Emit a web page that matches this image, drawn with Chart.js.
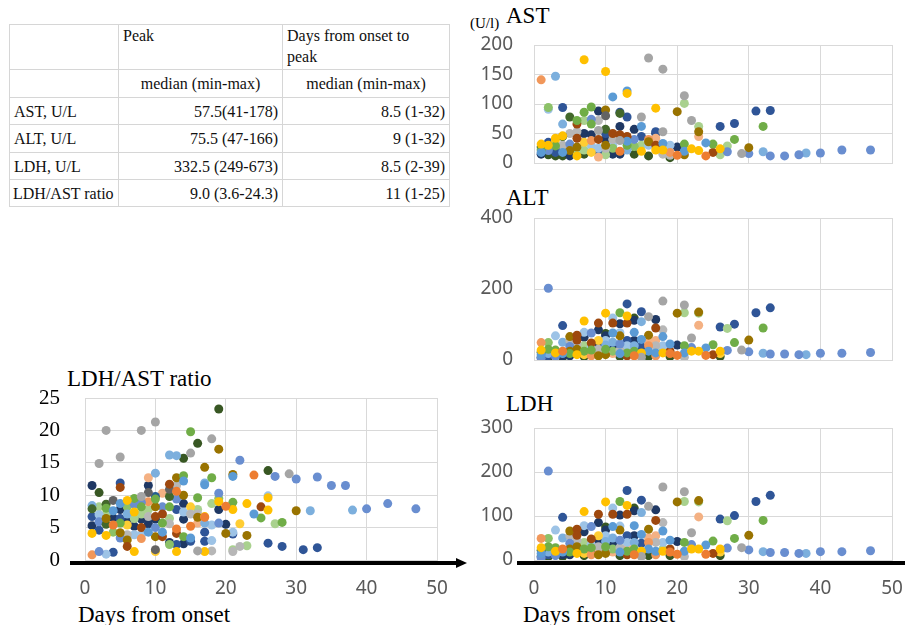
<!DOCTYPE html>
<html>
<head>
<meta charset="utf-8">
<script src="https://cdn.jsdelivr.net/npm/chart.js@4.4.0/dist/chart.umd.min.js"></script>
<style>
body { margin:0; width:905px; height:625px; background:#fff; position:relative; overflow:hidden; font-family:"Liberation Serif", serif; }
.box { position:absolute; }
.lbl { position:absolute; white-space:nowrap; line-height:1; color:#000; }
table { position:absolute; left:9px; top:24px; width:440px; border-collapse:collapse; table-layout:fixed; font-size:16px; color:#111; }
td { border:1.5px solid #d6d6d6; padding:0 4px; line-height:21px; white-space:nowrap; }
</style>
</head>
<body>

<table>
  <colgroup><col style="width:109px"><col style="width:164px"><col style="width:167px"></colgroup>
  <tr style="height:45px"><td></td><td style="vertical-align:top">Peak</td><td style="vertical-align:top">Days from onset to<br>peak</td></tr>
  <tr style="height:28px"><td></td><td style="text-align:center">median (min-max)</td><td style="text-align:center">median (min-max)</td></tr>
  <tr style="height:27px"><td>AST, U/L</td><td style="text-align:right">57.5(41-178)</td><td style="text-align:right">8.5 (1-32)</td></tr>
  <tr style="height:28px"><td>ALT, U/L</td><td style="text-align:right">75.5 (47-166)</td><td style="text-align:right">9 (1-32)</td></tr>
  <tr style="height:27px"><td>LDH, U/L</td><td style="text-align:right">332.5 (249-673)</td><td style="text-align:right">8.5 (2-39)</td></tr>
  <tr style="height:27px"><td style="padding-left:3px">LDH/AST ratio</td><td style="text-align:right">9.0 (3.6-24.3)</td><td style="text-align:right">11 (1-25)</td></tr>
</table>

<div class="lbl" style="left:470px;top:16px;font-size:15px">(U/l)</div>
<div class="lbl" style="left:506px;top:4px;font-size:23px">AST</div>
<div class="lbl" style="left:506px;top:186px;font-size:23px">ALT</div>
<div class="lbl" style="left:506px;top:392px;font-size:23px">LDH</div>
<div class="lbl" style="left:67px;top:367px;font-size:23px">LDH/AST ratio</div>
<div class="lbl" style="left:78px;top:603px;font-size:23px">Days from onset</div>
<div class="lbl" style="left:523px;top:603px;font-size:23px">Days from onset</div>

<div class="box" style="left:470px;top:0px"><canvas id="astChart" width="435" height="180"></canvas></div>
<div class="box" style="left:470px;top:180px"><canvas id="altChart" width="435" height="195"></canvas></div>
<div class="box" style="left:470px;top:385px"><canvas id="ldhChart" width="435" height="240"></canvas></div>
<div class="box" style="left:0px;top:385px"><canvas id="ratioChart" width="470" height="240"></canvas></div>

<script>
// one colour per patient, like the Excel series
const palette = ['#4472C4','#ED7D31','#A5A5A5','#FFC000','#5B9BD5','#70AD47','#264478','#9E480E',
  '#636363','#997300','#255E91','#43682B','#698ED0','#F1975A','#B7B7B7','#FFCD33',
  '#7CAFDD','#8CC168','#9DC3E6','#F4B183','#A9D18E','#2F5597','#1F3864','#385723'];

const dayTicks = [0, 10, 20, 30, 40, 50];

// [day from onset, value, patient]
const astPoints = [
  [1,141,13],[1,27,11],[1,32,3],[1,18,4],[1,15,22],[1,22,5],
  [2,94,17],[2,91,18],[2,35,21],[2,21,12],[2,27,16],[2,14,23],[2,30,3],
  [3,147,16],[3,42,3],[3,29,5],[3,12,23],[3,18,21],[3,38,15],
  [4,94,21],[4,66,16],[4,45,11],[4,46,3],[4,30,14],[4,18,4],[4,20,22],[4,12,23],
  [5,78,11],[5,50,14],[5,32,12],[5,21,9],[5,12,22],[5,28,19],
  [6,72,5],[6,66,7],[6,53,14],[6,42,7],[6,27,9],[6,12,3],[6,20,20],
  [7,175,3],[7,86,5],[7,72,20],[7,50,22],[7,35,15],[7,22,20],[7,15,23],
  [8,95,5],[8,74,12],[8,72,20],[8,66,5],[8,48,22],[8,38,13],[8,30,18],[8,18,15],
  [9,88,22],[9,72,14],[9,55,2],[9,40,7],[9,25,18],[9,20,21],[9,10,19],
  [10,155,3],[10,90,9],[10,80,8],[10,57,11],[10,50,21],[10,40,22],[10,30,9],[10,25,14],[10,14,20],
  [11,112,4],[11,50,7],[11,40,14],[11,30,18],[11,25,17],[11,15,22],
  [12,86,21],[12,84,11],[12,62,22],[12,48,7],[12,38,2],[12,20,1],[12,15,22],
  [13,122,4],[13,118,3],[13,78,21],[13,45,7],[13,37,4],[13,30,5],[13,22,16],
  [14,57,22],[14,40,12],[14,28,17],[14,15,23],
  [15,78,2],[15,62,4],[15,45,21],[15,30,20],[15,20,3],
  [16,178,2],[16,40,13],[16,36,9],[16,30,18],[16,12,23],
  [17,93,3],[17,53,21],[17,50,22],[17,42,19],[17,30,7],[17,22,3],
  [18,159,2],[18,53,2],[18,33,4],[18,22,3],[18,15,14],
  [19,30,18],[19,18,13],[19,13,14],[19,9,23],
  [20,87,9],[20,27,22],[20,13,1],
  [21,114,2],[21,101,20],[21,32,5],[21,20,4],[21,14,9],
  [22,72,2],[22,24,3],
  [23,62,20],[23,53,9],[23,45,19],[23,21,3],
  [24,34,4],[24,12,1],[25,32,5],[25,18,7],
  [26,62,21],[26,24,3],[26,14,20],[27,29,20],[27,19,12],
  [28,67,21],[28,40,5],[29,16,2],[30,26,9],[30,16,12],
  [31,88,21],[32,62,5],[32,19,16],[33,89,21],[33,12,12],
  [35,12,12],[37,14,12],[38,17,16],[40,17,12],[43,22,12],[47,22,12]
];

const altPoints = [
  [1,49,13],[1,22,11],[1,15,4],[1,8,22],[1,28,3],[1,5,12],
  [2,202,12],[2,49,17],[2,30,5],[2,18,16],[2,8,23],[2,12,21],
  [3,68,18],[3,28,5],[3,15,23],[3,20,3],[3,10,12],
  [4,97,21],[4,50,16],[4,25,1],[4,18,4],[4,8,23],[4,12,22],
  [5,66,9],[5,55,14],[5,38,12],[5,25,9],[5,12,22],[5,18,5],
  [6,70,7],[6,56,7],[6,45,14],[6,30,9],[6,15,3],[6,22,20],
  [7,110,3],[7,78,18],[7,64,22],[7,40,20],[7,25,5],[7,10,23],[7,15,15],
  [8,76,12],[8,48,7],[8,35,18],[8,20,21],[8,12,13],[8,28,5],
  [9,104,7],[9,85,22],[9,55,15],[9,40,22],[9,25,19],[9,12,9],[9,30,14],
  [10,132,3],[10,75,23],[10,68,22],[10,55,18],[10,42,16],[10,30,5],[10,15,9],[10,22,14],
  [11,118,18],[11,104,7],[11,76,4],[11,50,16],[11,38,22],[11,18,19],[11,25,17],
  [12,133,5],[12,102,22],[12,77,18],[12,68,9],[12,45,12],[12,28,14],[12,10,23],[12,18,4],
  [13,158,21],[13,124,3],[13,104,7],[13,55,21],[13,40,18],[13,28,19],[13,20,5],[13,12,7],
  [14,118,23],[14,112,22],[14,78,4],[14,55,22],[14,40,16],[14,25,5],[14,12,1],[14,20,20],
  [15,136,21],[15,108,16],[15,58,4],[15,38,21],[15,20,3],[15,8,2],
  [16,122,2],[16,70,9],[16,50,19],[16,40,13],[16,25,4],[16,10,23],
  [17,114,22],[17,90,7],[17,55,19],[17,40,14],[17,20,4],[17,12,13],
  [18,166,2],[18,85,14],[18,66,4],[18,40,18],[18,20,3],[18,25,20],
  [19,45,4],[19,25,7],[19,10,23],[19,18,1],
  [20,132,9],[20,42,22],[20,13,1],
  [21,155,2],[21,133,20],[21,40,5],[21,20,4],[21,8,14],
  [22,62,2],[22,35,12],[22,25,3],
  [23,135,9],[23,132,20],[23,98,19],[23,25,3],
  [24,34,4],[24,13,1],[25,43,5],[25,15,7],
  [26,93,21],[26,25,3],[26,10,23],[26,18,15],
  [27,89,20],[27,27,12],[28,101,21],[28,49,5],[29,28,2],
  [30,56,9],[30,23,12],[31,133,21],[32,90,5],[32,19,16],[33,147,21],[33,17,12],
  [35,17,12],[37,15,12],[38,15,16],[40,19,12],[43,19,12],[47,21,12]
];

// the LDH panel of the figure shows the very same dots as the ALT panel
const ldhPoints = altPoints;

const ratioPoints = [
  [1,11.5,22],[1,8.4,16],[1,7.9,11],[1,6.7,21],[1,5.3,22],[1,4.1,3],[1,0.8,13],
  [2,14.9,2],[2,10.4,23],[2,8.2,20],[2,7.0,18],[2,5.9,12],[2,4.6,21],[2,1.3,12],
  [3,20,2],[3,8.6,11],[3,8.0,5],[3,7.1,20],[3,6.4,9],[3,5.5,11],[3,3.8,3],[3,0.9,18],
  [4,9.2,8],[4,7.6,4],[4,6.5,22],[4,5.4,1],[4,4.3,17],[4,1.2,21],
  [5,15.9,2],[5,11.9,21],[5,11.2,7],[5,8.7,4],[5,7.8,22],[5,6.4,21],[5,5.7,5],[5,4.2,9],[5,3.4,12],
  [6,9.2,3],[6,8.2,17],[6,7.1,16],[6,6.0,22],[6,5.4,15],[6,3.9,14],[6,3.1,9],[6,2.1,7],
  [7,9.5,5],[7,8.6,12],[7,7.4,3],[7,6.4,20],[7,5.2,22],[7,3.9,18],[7,1.3,3],
  [8,20,2],[8,9.8,2],[8,8.9,12],[8,8.2,5],[8,7.1,20],[8,6.3,22],[8,5.0,7],[8,3.9,18],[8,3.3,13],
  [9,12.7,19],[9,11.5,22],[9,10.4,8],[9,9.0,13],[9,7.8,20],[9,6.7,14],[9,5.6,22],[9,4.3,4],
  [10,21.3,2],[10,13.4,16],[10,9.8,10],[10,9.4,5],[10,8.2,9],[10,6.7,7],[10,6.3,22],[10,5.0,12],[10,3.6,9],[10,1.6,8],[10,1.3,15],
  [11,10.3,19],[11,8.2,12],[11,7.1,7],[11,5.7,5],[11,4.3,4],[11,3.6,7],
  [12,16.2,16],[12,11.7,7],[12,10.9,8],[12,9.8,11],[12,8.2,5],[12,6.4,20],[12,5.6,14],[12,2.7,22],[12,2.4,17],
  [13,16.1,16],[13,12.7,9],[13,11.5,14],[13,10.6,1],[13,9.4,12],[13,7.8,21],[13,4.8,1],[13,4.1,7],[13,2.4,21],[13,1.3,3],
  [14,15.7,23],[14,13.0,5],[14,12.2,4],[14,10.0,9],[14,8.7,22],[14,7.4,18],[14,6.3,22],[14,3.6,5],[14,2.5,22],
  [15,19.8,5],[15,16.5,2],[15,8.2,15],[15,7.1,14],[15,5.2,1],[15,3.4,4],[15,2.9,21],
  [16,18.0,23],[16,9.6,5],[16,7.8,20],[16,7.1,14],[16,6.6,9],[16,5.7,19],[16,1.4,2],
  [17,14.3,9],[17,11.9,16],[17,11.6,4],[17,6.7,3],[17,6.6,1],[17,5.7,16],[17,4.3,21],[17,2.9,21],[17,1.3,3],
  [18,18.7,2],[18,12.7,5],[18,8.7,20],[18,5.4,18],[18,3.0,18],[18,1.4,14],
  [19,23.3,23],[19,17.1,9],[19,10.3,12],[19,9.5,17],[19,9.0,3],[19,7.8,22],[19,5.7,12],
  [20,8.3,1],[20,5.5,22],[20,4.1,9],
  [21,13.2,9],[21,12.9,4],[21,8.9,5],[21,7.8,3],[21,4.3,18],[21,4.0,21],[21,1.6,20],[21,1.3,14],
  [22,15.4,12],[22,5.6,15],[22,2.1,14],[23,8.7,3],[23,3.8,9],[23,2.2,20],
  [24,13.1,1],[24,7.1,4],[25,8.2,7],[25,6.5,5],
  [26,13.8,23],[26,9.9,18],[26,9.6,3],[26,7.7,3],[26,2.6,21],
  [27,12.9,12],[27,5.6,20],[28,5.8,5],[28,2.1,21],[29,13.3,2],
  [30,12.5,12],[30,7.6,9],[31,1.6,21],[32,7.6,16],[33,12.8,12],[33,1.9,21],
  [35,11.5,12],[37,11.5,12],[38,7.7,16],[40,7.9,12],[43,8.7,12],[47,7.9,12]
];

const astTicks = [0, 50, 100, 150, 200];
const altTicks = [0, 200, 400];
const ldhTicks = [0, 100, 200, 300];
const ratioTicks = [0, 5, 10, 15, 20, 25];

// thick black x axis line drawn below the plot, with or without arrow head
const blackAxis = {
  id: 'blackAxis',
  afterDraw(chart, args, opts) {
    if (!opts.show) return;
    const a = chart.chartArea, ctx = chart.ctx;
    const y = a.bottom + 3;
    const x0 = a.left - opts.before;
    const x1 = Math.min(a.right + opts.after, chart.width);
    ctx.save();
    ctx.strokeStyle = '#000';
    ctx.lineWidth = 4;
    ctx.beginPath();
    ctx.moveTo(x0, y);
    ctx.lineTo(opts.arrow ? x1 - 8 : x1, y);
    ctx.stroke();
    if (opts.arrow) {
      ctx.fillStyle = '#000';
      ctx.beginPath();
      ctx.moveTo(x1, y);
      ctx.lineTo(x1 - 11, y - 5);
      ctx.lineTo(x1 - 11, y + 5);
      ctx.closePath();
      ctx.fill();
    }
    ctx.restore();
  }
};

function toDatasets(points) {
  const sets = [];
  palette.forEach(function (c, i) {
    const pts = points.filter(p => p[2] === i).map(p => ({ x: p[0], y: p[1] }));
    if (pts.length) sets.push({ data: pts, backgroundColor: c, borderWidth: 0, pointRadius: 4.5, pointHoverRadius: 4.5 });
  });
  return sets;
}

// tick label gaps are made with invisible tick marks, because ticks.padding
// also widens the layout padding and shrinks the plot area
function makeChart(id, points, yTicks, cfg) {
  const greyFont = { family: 'Noto Sans', size: 19 };
  new Chart(document.getElementById(id), {
    type: 'scatter',
    data: { datasets: toDatasets(points) },
    options: {
      responsive: false,
      animation: false,
      layout: { padding: { left: 0, right: cfg.right, top: cfg.top, bottom: 0 } },
      plugins: {
        legend: { display: false },
        tooltip: { enabled: false },
        blackAxis: cfg.axis || { show: false }
      },
      scales: {
        x: {
          type: 'linear', min: dayTicks[0], max: dayTicks[dayTicks.length - 1],
          afterBuildTicks: s => { s.ticks = dayTicks.map(v => ({ value: v })); },
          afterFit: s => { s.height = cfg.xHeight; },
          ticks: { display: !!cfg.showX, autoSkip: false, maxRotation: 0, padding: 0, color: '#595959', font: greyFont },
          grid: { color: '#d9d9d9', drawTicks: true, tickLength: 17, tickColor: 'rgba(0,0,0,0)' },
          border: { color: '#d9d9d9' }
        },
        y: {
          type: 'linear', min: yTicks[0], max: yTicks[yTicks.length - 1],
          afterBuildTicks: s => { s.ticks = yTicks.map(v => ({ value: v })); },
          afterFit: s => { s.width = cfg.yWidth; },
          ticks: { autoSkip: false, padding: 0, color: cfg.yColor || '#595959', font: cfg.yFont || greyFont },
          grid: { color: '#d9d9d9', drawTicks: true, tickLength: cfg.yGap, tickColor: 'rgba(0,0,0,0)' },
          border: { color: '#d9d9d9' }
        }
      }
    },
    plugins: [blackAxis]
  });
}

makeChart('astChart', astPoints, astTicks, { top: 45, right: 13, yWidth: 64, yGap: 21, xHeight: 17 });
makeChart('altChart', altPoints, altTicks, { top: 38, right: 13, yWidth: 64, yGap: 21, xHeight: 15 });
makeChart('ldhChart', ldhPoints, ldhTicks, { top: 43, right: 13, yWidth: 64, yGap: 21, xHeight: 65, showX: true,
  axis: { show: true, before: 17, after: 20, arrow: false } });
makeChart('ratioChart', ratioPoints, ratioTicks, { top: 13, right: 33, yWidth: 85, yGap: 25, xHeight: 65, showX: true,
  yColor: '#000', yFont: { family: 'Liberation Serif', size: 21 },
  axis: { show: true, before: 15, after: 30, arrow: true } });
</script>
</body>
</html>
